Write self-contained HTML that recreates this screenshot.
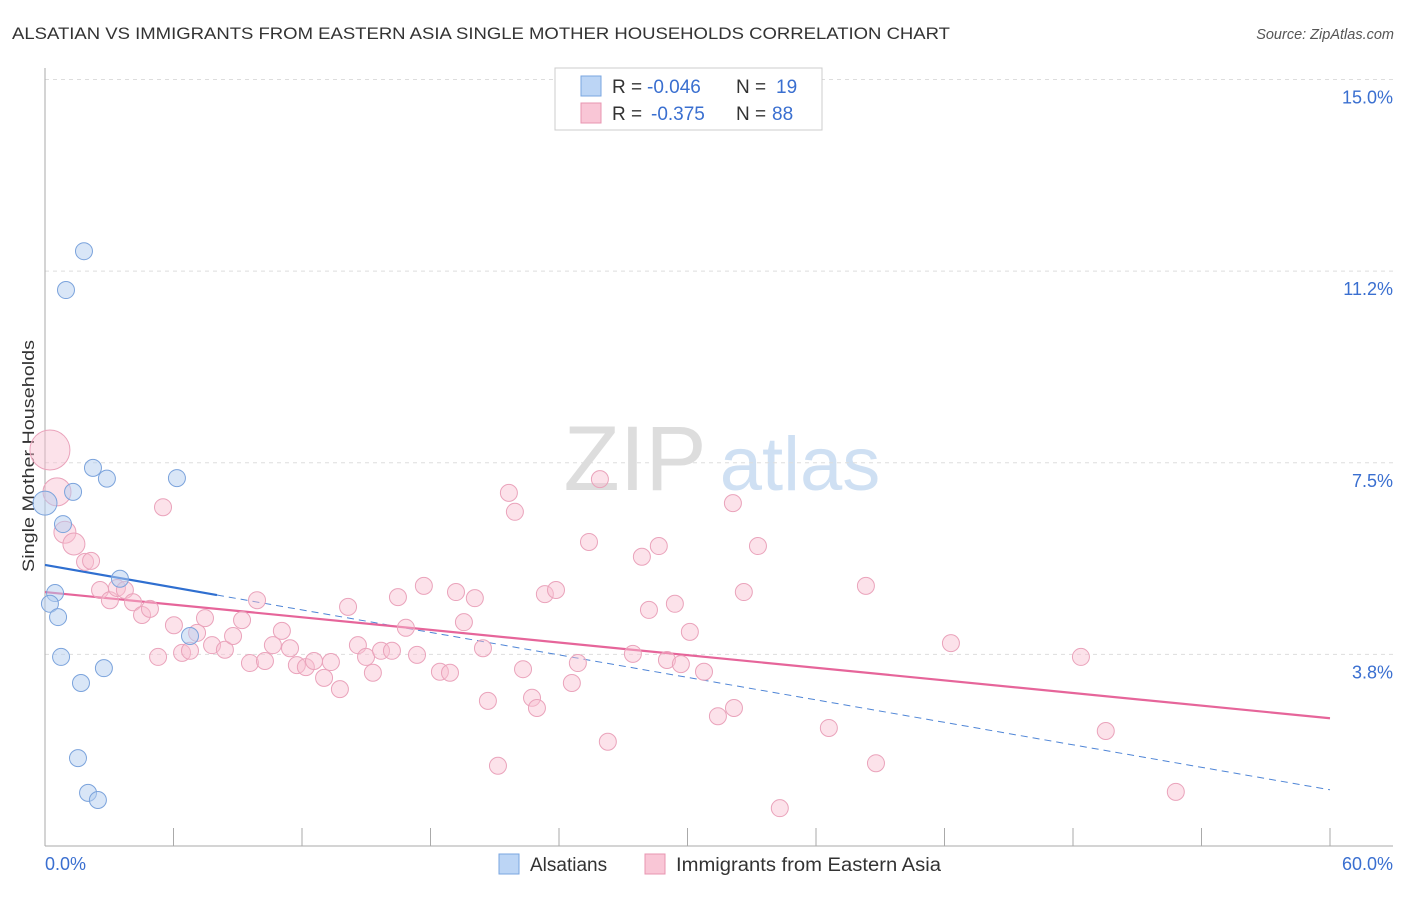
<!DOCTYPE html>
<html><head><meta charset="utf-8"><style>
body{margin:0;background:#fff;font-family:"Liberation Sans",sans-serif}
svg text{font-family:"Liberation Sans",sans-serif}
</style></head><body>
<svg id="chart" width="1406" height="892" xmlns="http://www.w3.org/2000/svg">
<text x="12" y="39" font-size="17" fill="#333" textLength="938" lengthAdjust="spacingAndGlyphs">ALSATIAN VS IMMIGRANTS FROM EASTERN ASIA SINGLE MOTHER HOUSEHOLDS CORRELATION CHART</text>
<text x="1394" y="39" font-size="14.5" fill="#555" font-style="italic" text-anchor="end">Source: ZipAtlas.com</text>
<g><text x="635" y="490" font-size="92" fill="#ddd" font-family="Liberation Serif" text-anchor="middle">ZIP</text><text x="800" y="490" font-size="76" fill="#cfe0f3" text-anchor="middle">atlas</text></g>
<text transform="translate(34,456) rotate(-90)" font-size="17" fill="#333" text-anchor="middle" textLength="232" lengthAdjust="spacingAndGlyphs">Single Mother Households</text>
<g id="grid"></g><g id="axes"></g><g id="lines"></g><g id="pts"></g>
<g>
<rect x="555" y="68" width="267" height="62" fill="#fff" stroke="#ccc"/>
<rect x="581" y="76" width="20" height="20" fill="#bcd5f5" stroke="#7aa6e0"/>
<rect x="581" y="103" width="20" height="20" fill="#f9c6d6" stroke="#e895b0"/>
<text x="612" y="93" font-size="19" fill="#333">R =</text><text x="647" y="93" font-size="19" fill="#3a6fd0">-0.046</text><text x="736" y="93" font-size="19" fill="#333">N =</text><text x="776" y="93" font-size="19" fill="#3a6fd0">19</text>
<text x="612" y="120" font-size="19" fill="#333">R =</text><text x="651" y="120" font-size="19" fill="#3a6fd0">-0.375</text><text x="736" y="120" font-size="19" fill="#333">N =</text><text x="772" y="120" font-size="19" fill="#3a6fd0">88</text>
</g>
<g>
<rect x="499" y="854" width="20" height="20" fill="#bcd5f5" stroke="#7aa6e0"/>
<text x="530" y="871" font-size="19" fill="#333">Alsatians</text>
<rect x="645" y="854" width="20" height="20" fill="#f9c6d6" stroke="#e895b0"/>
<text x="676" y="871" font-size="19" fill="#333" textLength="265" lengthAdjust="spacingAndGlyphs">Immigrants from Eastern Asia</text>
</g>
</svg>
<script>
const yTicks=[3.75,7.5,11.25,15.0];
const yTickLabels=["3.8%","7.5%","11.2%","15.0%"];
const xTickLabels=["0.0%","60.0%"];
const blueX=[1.82,0.98,2.24,2.89,6.16,1.31,0,0.84,3.50,0.47,0.23,0.61,6.77,0.75,2.75,1.68,1.54,2.01,2.47];
const blueY=[11.64,10.88,7.40,7.19,7.20,6.93,6.71,6.30,5.23,4.95,4.74,4.48,4.11,3.70,3.48,3.19,1.72,1.04,0.90];
const pinkX=[0.23,0.56,0.93,1.35,1.87,2.15,5.51,2.57,3.03,3.36,3.73,4.11,4.53,4.90,5.28,6.02,6.40,6.77,7.10,7.47,7.80,8.40,8.78,9.20,9.57,9.90,10.27,10.64,11.06,11.44,11.76,12.18,12.56,13.03,13.35,13.77,14.15,14.61,14.99,15.31,15.69,16.20,16.48,16.85,17.37,17.69,18.44,18.91,19.19,19.56,20.07,20.45,20.68,21.15,21.66,21.94,22.32,22.74,22.97,23.34,23.86,24.60,24.88,25.40,25.91,26.28,27.45,27.87,28.20,28.66,29.04,29.41,29.69,30.11,30.77,31.42,32.17,32.12,32.63,33.29,34.31,36.60,38.33,38.80,42.30,48.37,49.53,52.80];
const pinkY=[7.75,6.93,6.14,5.91,5.56,5.58,6.63,5.01,4.81,5.05,5.01,4.77,4.52,4.64,3.70,4.32,3.78,3.82,4.17,4.46,3.93,3.84,4.11,4.42,3.58,4.81,3.62,3.93,4.21,3.87,3.54,3.50,3.62,3.29,3.60,3.07,4.68,3.93,3.70,3.39,3.82,3.82,4.87,4.27,3.74,5.09,3.41,3.39,4.97,4.38,4.85,3.87,2.84,1.57,6.91,6.54,3.46,2.90,2.70,4.93,5.01,3.19,3.58,5.95,7.18,2.04,3.76,5.66,4.62,5.87,3.64,4.74,3.56,4.19,3.41,2.54,2.70,6.71,4.97,5.87,0.74,2.31,5.09,1.62,3.97,3.70,2.25,1.06];
const blueFit=[5.50,1.10], blueSolidEnd=8.03;
const pinkFit=[4.97,2.50];
const NS="http://www.w3.org/2000/svg";
const X=v=>45+v*(1285/60), Y=v=>846-v*51.1;
function mk(tag,attrs,parent){const e=document.createElementNS(NS,tag);for(const k in attrs)e.setAttribute(k,attrs[k]);document.getElementById(parent).appendChild(e);return e;}
yTicks.forEach((t,i)=>{
 const g=mk('line',{x1:45,x2:1393,y1:Y(t),y2:Y(t),stroke:'#ddd','stroke-dasharray':'4,4'},'grid');
 
 
 const l=mk('text',{x:1393,y:Y(t)+24,'font-size':18,fill:'#3a6fd0','text-anchor':'end'},'grid');
 l.textContent=yTickLabels[i];
 
 
});
const ax=mk('line',{x1:45,x2:45,y1:68,y2:846,stroke:'#aaa'},'axes');


const bx=mk('line',{x1:45,x2:1393,y1:846,y2:846,stroke:'#aaa'},'axes');


for(let i=0;i<=10;i++){const t=mk('line',{x1:X(i*6),x2:X(i*6),y1:828,y2:846,stroke:'#aaa'},'axes');
 
 }
[[0,'start',45],[60,'end',1393]].forEach((d,i)=>{const t=mk('text',{x:d[2],y:870,'font-size':18,fill:'#3a6fd0','text-anchor':d[1]},'axes');t.textContent=xTickLabels[i];
 
 });
function pt(x,y,r,fill,stroke,name){const c=mk('circle',{cx:X(x),cy:Y(y),r:r,fill:fill,stroke:stroke,'stroke-width':1},'pts');
 
 }
pinkX.forEach((x,i)=>pt(x,pinkY[i],i==0?20:(i==1?14:(i<4?11:8.5)),'rgba(248,190,208,0.45)','#eaa3bb','immigrants-point'));
blueX.forEach((x,i)=>pt(x,blueY[i],i==6?12:8.5,'rgba(180,205,240,0.5)','#7ba3dc','alsatians-point'));
const bf=x=>blueFit[0]+(blueFit[1]-blueFit[0])*x/60, pf=x=>pinkFit[0]+(pinkFit[1]-pinkFit[0])*x/60;
let l1=mk('line',{x1:X(0),y1:Y(bf(0)),x2:X(blueSolidEnd),y2:Y(bf(blueSolidEnd)),stroke:'#2f6fd0','stroke-width':2.2},'lines');


let l2=mk('line',{x1:X(blueSolidEnd),y1:Y(bf(blueSolidEnd)),x2:X(60),y2:Y(bf(60)),stroke:'#4f85d6','stroke-width':1,'stroke-dasharray':'7,5'},'lines');


let l3=mk('line',{x1:X(0),y1:Y(pf(0)),x2:X(60),y2:Y(pf(60)),stroke:'#e6659a','stroke-width':2.2},'lines');


</script>
</body></html>
